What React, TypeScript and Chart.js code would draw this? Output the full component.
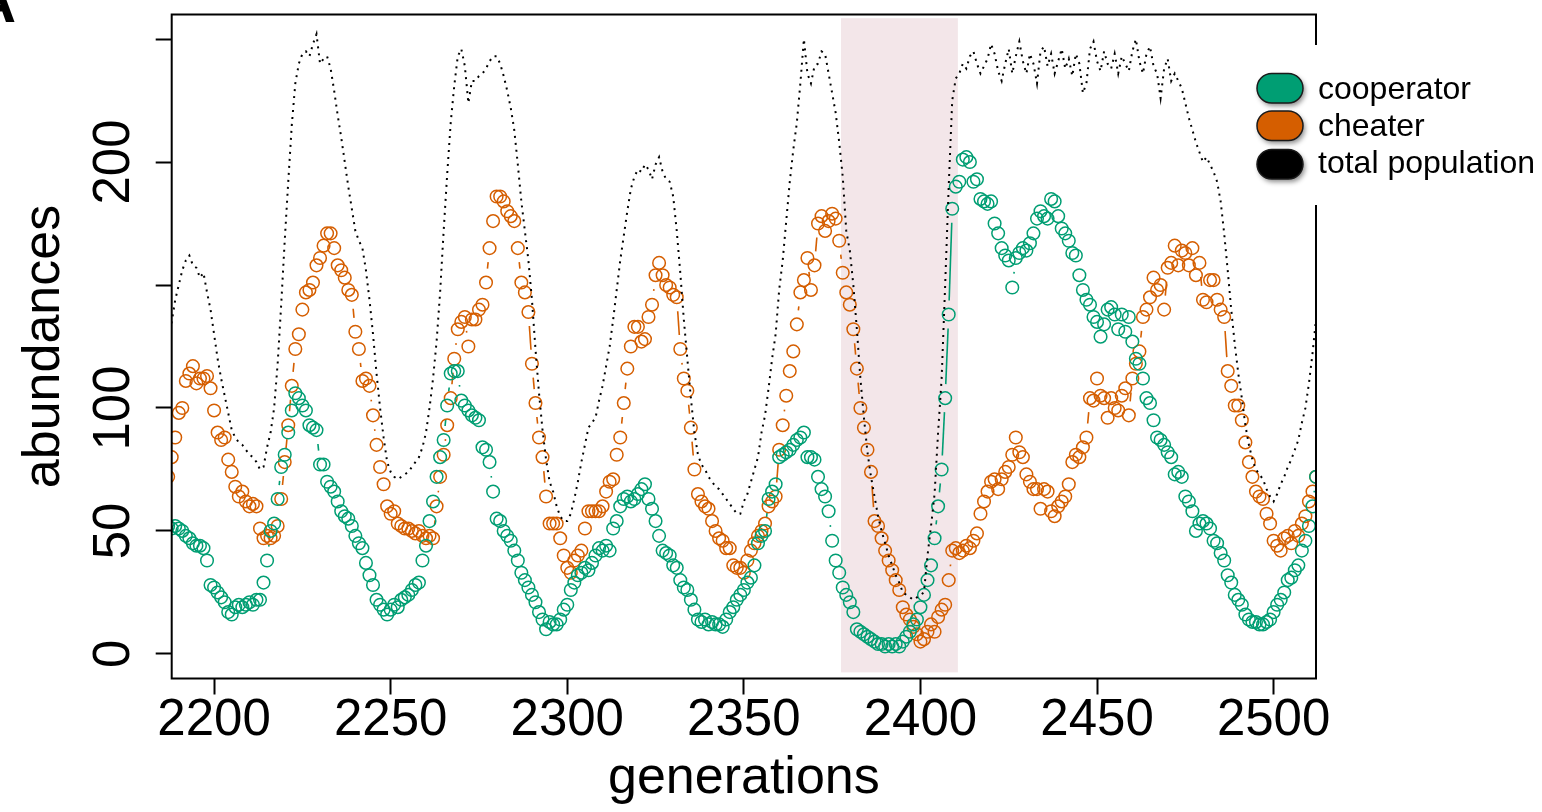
import React, { useEffect, useRef } from 'react';
import { Chart, registerables } from 'chart.js';

Chart.register(...registerables);

// first generation of the series below (one value per generation)
const firstGeneration = 2187;

const cooperator = [
  52, 51, 52, 51, 50, 48, 47, 45, 44, 44,
  43, 38, 28, 27, 25, 23, 21, 17, 16, 19,
  20, 19, 20, 21, 20, 22, 22, 29, 38, 50,
  53, 63, 76, 81, 90, 99, 106, 104, 101, 99,
  93, 92, 91, 77, 77, 70, 68, 66, 62, 58,
  56, 55, 52, 48, 45, 43, 37, 32, 28, 22,
  20, 18, 16, 18, 20, 19, 22, 23,
  24, 26, 28, 29, 38, 44, 54, 62, 72, 80,
  87, 101, 114, 115, 115, 103, 101, 99, 97, 96,
  95, 84, 83, 78, 66, 55, 54, 50, 48, 46,
  42, 38, 33, 30, 27, 24, 21, 17, 14, 10,
  13, 12, 12, 14, 18, 20, 26, 29, 32, 33,
  35, 34, 37, 40, 43, 42, 44, 42, 51, 54,
  60, 63, 64, 62, 63, 65, 67, 69, 63, 59,
  54, 48, 42, 41, 40, 36, 35, 30, 27, 26,
  22, 18, 14, 13, 14, 12, 13, 12,
  12, 11, 14, 17, 19, 22, 24, 26, 29, 31,
  36, 45, 48, 50, 63, 66, 69, 80, 81, 82,
  83, 85, 87, 88, 90, 80, 80, 79, 72, 67,
  64, 58, 46, 38, 33, 27, 24, 21, 17, 10,
  9, 8, 7, 6, 5, 4, 4, 3, 4, 3,
  4, 3, 5, 7, 9, 12, 14, 19, 24, 30,
  36, 47, 60, 75, 104, 138, 181, 190, 192, 201,
  202, 200, 192, 193, 185, 184,
  183, 184, 175, 171, 165, 162, 160, 149, 161, 163,
  165, 164, 167, 171, 177, 180, 178, 177, 185, 184,
  178, 173, 171, 168, 163, 162, 154, 148, 144, 142,
  137, 135, 129, 134, 140, 141, 138, 132, 138, 131,
  137, 127, 120, 118, 112, 104, 102, 95, 88, 87,
  85, 82, 80, 73, 74, 72, 64, 62, 58, 50,
  53, 54, 53, 51, 46, 45, 41, 38, 32, 29,
  24, 22, 20, 16, 14, 13, 13, 12,
  12, 13, 14, 17, 20, 22, 25, 30, 31, 34,
  36, 42, 46, 52, 60, 72,
];

const cheater = [
  72, 80, 88, 98, 100, 111, 114, 117, 110, 112,
  112, 113, 108, 99, 90, 87, 88, 79, 74, 68,
  64, 66, 62, 60, 61, 60, 51, 47, 48, 47,
  48, 52, 63, 78, 93, 109, 124, 130, 140, 147,
  148, 151, 158, 161, 166, 171, 171, 165, 158, 156,
  153, 148, 146, 131, 124, 111, 112, 109, 97, 85,
  76, 69, 60, 57, 58, 53, 52, 51,
  51, 50, 49, 50, 48, 47, 48, 47, 60, 72,
  81, 93, 104, 120, 132, 135, 137, 125, 136, 136,
  140, 142, 151, 165, 176, 186, 186, 184, 180, 178,
  176, 165, 151, 147, 139, 118, 102, 88, 80, 64,
  53, 53, 53, 47, 40, 35, 33, 38, 40, 42,
  51, 58, 58, 58, 58, 60, 66, 70, 71, 81,
  88, 102, 116, 125, 133, 133, 127, 128, 137, 142,
  154, 159, 154, 150, 149, 146, 145, 124, 112, 107,
  92, 75, 65, 62, 60, 59, 54, 50,
  47, 46, 43, 43, 36, 35, 35, 33, 38, 42,
  45, 48, 50, 53, 60, 62, 64, 83, 93, 105,
  115, 123, 134, 147, 152, 161, 148, 158, 175, 178,
  172, 176, 179, 177, 168, 155, 147, 142, 132, 116,
  100, 92, 83, 74, 54, 52, 47, 42, 38, 34,
  30, 26, 19, 16, 14, 11, 8, 5, 6, 9,
  12, 9, 15, 18, 20, 30, 42, 43, 41, 42,
  44, 43, 46, 49, 57, 62,
  66, 70, 71, 67, 71, 74, 76, 81, 88, 82,
  80, 73, 70, 67, 67, 59, 67, 66, 58, 56,
  60, 62, 64, 69, 78, 81, 80, 84, 88, 104,
  103, 112, 105, 104, 96, 104, 100, 99, 105, 108,
  97, 112, 118, 123, 137, 140, 145, 153, 148, 150,
  140, 157, 159, 166, 158, 164, 163, 158, 165, 154,
  159, 144, 143, 152, 152, 144, 140, 137, 115, 109,
  101, 101, 95, 86, 78, 72, 66, 64,
  63, 57, 53, 46, 44, 42, 47, 48, 45, 50,
  48, 53, 56, 62, 66, 72,
];

const totalPopulation = [
  126, 135, 144, 150, 156, 160, 162, 158, 157, 153,
  155, 147, 140, 130, 120, 112, 105, 98, 91, 88,
  86, 85, 83, 81, 80, 78, 75, 76, 84, 90,
  100, 118, 142, 168, 192, 215, 232, 240, 244, 245,
  243, 248, 252, 240, 242, 243, 238, 229, 219, 210,
  200, 190, 181, 172, 168, 165, 156, 144, 130, 114,
  100, 88, 78, 74, 72, 71, 72, 73,
  74, 76, 78, 80, 84, 90, 100, 112, 127, 147,
  172, 195, 216, 231, 243, 246, 239, 224, 233, 233,
  235, 236, 238, 241, 243, 243, 240, 235, 229, 222,
  213, 199, 184, 172, 160, 144, 124, 106, 91, 79,
  70, 66, 60, 56, 54, 54, 57, 63, 70, 78,
  85, 92, 94, 96, 103, 109, 117, 125, 136, 148,
  160, 170, 180, 189, 194, 197, 196, 199, 197, 193,
  199, 202, 196, 193, 192, 186, 172, 155, 136, 120,
  104, 90, 81, 77, 75, 72, 70, 68,
  67, 65, 63, 61, 59, 57, 57, 62, 65, 70,
  75, 80, 90, 97, 108, 120, 130, 148, 160, 176,
  192, 205, 216, 232, 250, 236, 232, 239, 240, 245,
  244, 236, 228, 220, 208, 194, 172, 164, 150, 132,
  112, 96, 82, 72, 64, 56, 50, 45, 40, 36,
  32, 29, 25, 24, 23, 22, 23, 24, 25, 40,
  52, 65, 90, 112, 150, 190, 225, 234, 236, 240,
  238, 243, 245, 240, 236, 239,
  242, 248, 244, 237, 233, 240, 246, 236, 243, 249,
  241, 236, 244, 240, 232, 245, 247, 239, 244, 236,
  241, 246, 238, 242, 235, 244, 240, 228, 232, 246,
  249, 241, 237, 245, 240, 238, 244, 236, 243, 240,
  237, 245, 250, 241, 236, 244, 247, 239, 236, 226,
  238, 242, 233, 236, 233, 230, 224, 218, 213, 208,
  204, 200, 202, 199, 196, 192, 184, 171, 156, 140,
  126, 114, 104, 93, 85, 79, 75, 73,
  71, 67, 64, 62, 65, 69, 72, 76, 79, 83,
  87, 94, 100, 110, 122, 136,
];

const xTicks = [2200, 2250, 2300, 2350, 2400, 2450, 2500];
const yTicks = [0, 50, 100, 150, 200, 250];
const yTickLabels = ['0', '50', '100', '', '200', ''];
const highlightGenerations = [2377.5, 2410.6];
const highlightAbundances = [-7.5, 258.5];
const legendLabels = ['cooperator', 'cheater', 'total population'];

const GREEN = '#009E73';
const ORANGE = '#D55E00';
const FONT = '"Liberation Sans", Arial, Helvetica, sans-serif';

const toPoints = (values: number[]) =>
  values.map((v, i) => ({ x: firstGeneration + i, y: v }));

const bandPlugin = {
  id: 'band',
  beforeDatasetsDraw(chart: any) {
    const { ctx, chartArea, scales } = chart;
    const x0 = scales.x.getPixelForValue(highlightGenerations[0]);
    const x1 = scales.x.getPixelForValue(highlightGenerations[1]);
    const y0 = scales.y.getPixelForValue(highlightAbundances[1]);
    const y1 = scales.y.getPixelForValue(highlightAbundances[0]);
    ctx.save();
    ctx.beginPath();
    ctx.rect(chartArea.left, chartArea.top, chartArea.width, chartArea.height);
    ctx.clip();
    ctx.fillStyle = '#F3E6E9';
    ctx.fillRect(x0, y0, x1 - x0, y1 - y0);
    ctx.restore();
  },
};

// R "type = b": line segments between points, with gaps around each point
const gapLinesPlugin = {
  id: 'gapLines',
  beforeDatasetsDraw(chart: any) {
    const { ctx, chartArea, scales } = chart;
    const gap = 14;
    ctx.save();
    ctx.beginPath();
    ctx.rect(chartArea.left, chartArea.top, chartArea.width, chartArea.height);
    ctx.clip();
    chart.data.datasets.forEach((ds: any) => {
      if (!ds.gapLines) return;
      ctx.strokeStyle = ds.borderColor;
      ctx.lineWidth = 1.6;
      const pts = ds.data;
      for (let i = 1; i < pts.length; i++) {
        const xa = scales.x.getPixelForValue(pts[i - 1].x);
        const ya = scales.y.getPixelForValue(pts[i - 1].y);
        const xb = scales.x.getPixelForValue(pts[i].x);
        const yb = scales.y.getPixelForValue(pts[i].y);
        const dx = xb - xa;
        const dy = yb - ya;
        const d = Math.hypot(dx, dy);
        if (d <= 2 * gap + 1) continue;
        const ux = dx / d;
        const uy = dy / d;
        ctx.beginPath();
        ctx.moveTo(xa + ux * gap, ya + uy * gap);
        ctx.lineTo(xb - ux * gap, yb - uy * gap);
        ctx.stroke();
      }
    });
    ctx.restore();
  },
};

const pillPath = (ctx: CanvasRenderingContext2D, x: number, y: number, w: number, h: number) => {
  const r = h / 2;
  ctx.beginPath();
  ctx.moveTo(x + r, y);
  ctx.lineTo(x + w - r, y);
  ctx.arc(x + w - r, y + r, r, -Math.PI / 2, Math.PI / 2);
  ctx.lineTo(x + r, y + h);
  ctx.arc(x + r, y + r, r, Math.PI / 2, (3 * Math.PI) / 2);
  ctx.closePath();
};

const framePlugin = {
  id: 'frame',
  afterDraw(chart: any) {
    const { ctx, chartArea } = chart;
    ctx.save();
    ctx.strokeStyle = '#000';
    ctx.lineWidth = 2;
    ctx.strokeRect(chartArea.left, chartArea.top, chartArea.width, chartArea.height);

    // legend (white box overlapping the right frame)
    ctx.fillStyle = '#fff';
    ctx.fillRect(1242, 45, 300, 160);
    const fills = [GREEN, ORANGE, '#000'];
    const pillTops = [73.5, 111, 149.5];
    const baselines = [99, 136, 172.5];
    for (let i = 0; i < 3; i++) {
      const x = 1257;
      const y = pillTops[i];
      const w = 46;
      const h = 29.5;
      ctx.save();
      ctx.shadowColor = 'rgba(0,0,0,0.45)';
      ctx.shadowBlur = 5;
      ctx.shadowOffsetX = 2;
      ctx.shadowOffsetY = 3;
      pillPath(ctx, x, y, w, h);
      ctx.fillStyle = fills[i];
      ctx.fill();
      ctx.restore();
      pillPath(ctx, x, y, w, h);
      ctx.strokeStyle = '#1a1a1a';
      ctx.lineWidth = 1.5;
      ctx.stroke();
      ctx.fillStyle = '#000';
      ctx.font = `32px ${FONT}`;
      ctx.textAlign = 'left';
      ctx.textBaseline = 'alphabetic';
      ctx.fillText(legendLabels[i], 1318, baselines[i]);
    }

    // cropped panel letter
    ctx.fillStyle = '#000';
    ctx.font = `bold 60px ${FONT}`;
    ctx.textAlign = 'right';
    ctx.textBaseline = 'alphabetic';
    ctx.fillText('A', 16, 22);
    ctx.restore();
  },
};

export default function App() {
  const canvasRef = useRef<HTMLCanvasElement | null>(null);

  useEffect(() => {
    if (!canvasRef.current) return;
    const chart = new Chart(canvasRef.current, {
      type: 'scatter',
      data: {
        datasets: [
          {
            label: 'total population',
            data: toPoints(totalPopulation),
            showLine: true,
            borderColor: '#000',
            borderWidth: 2,
            borderDash: [2, 5],
            pointRadius: 0,
            tension: 0,
          } as any,
          {
            label: 'cooperator',
            data: toPoints(cooperator),
            borderColor: GREEN,
            backgroundColor: 'rgba(0,0,0,0)',
            pointRadius: 6.3,
            pointBorderWidth: 1.5,
            pointBorderColor: GREEN,
            pointBackgroundColor: 'rgba(0,0,0,0)',
            showLine: false,
            gapLines: true,
          } as any,
          {
            label: 'cheater',
            data: toPoints(cheater),
            borderColor: ORANGE,
            backgroundColor: 'rgba(0,0,0,0)',
            pointRadius: 6.3,
            pointBorderWidth: 1.5,
            pointBorderColor: ORANGE,
            pointBackgroundColor: 'rgba(0,0,0,0)',
            showLine: false,
            gapLines: true,
          } as any,
        ],
      },
      options: {
        animation: false,
        responsive: false,
        devicePixelRatio: 1,
        events: [],
        layout: { padding: { left: 0, top: 14.5, right: 226, bottom: 0 } },
        plugins: { legend: { display: false }, tooltip: { enabled: false } },
        scales: {
          x: {
            type: 'linear',
            min: 2188,
            max: 2512,
            afterFit: (s: any) => {
              s.height = 133.5;
              s.paddingLeft = 0;
              s.paddingRight = 0;
              s.paddingTop = 0;
              s.paddingBottom = 0;
            },
            afterBuildTicks: (s: any) => {
              s.ticks = xTicks.map((v) => ({ value: v }));
            },
            ticks: {
              autoSkip: false,
              maxRotation: 0,
              padding: -4,
              color: '#000',
              font: { family: FONT, size: 51 },
              callback: (v: any) => String(v),
            },
            grid: {
              drawOnChartArea: false,
              drawTicks: true,
              tickLength: 16,
              tickWidth: 2,
              tickColor: '#000',
            },
            border: { display: false },
            title: {
              display: true,
              text: 'generations',
              color: '#000',
              font: { family: FONT, size: 52 },
              padding: { top: 0, bottom: 2 },
            },
          },
          y: {
            type: 'linear',
            min: -10,
            max: 260,
            afterFit: (s: any) => {
              s.width = 171.7;
              s.paddingLeft = 0;
              s.paddingRight = 0;
              s.paddingTop = 0;
              s.paddingBottom = 0;
            },
            afterBuildTicks: (s: any) => {
              s.ticks = yTicks.map((v) => ({ value: v }));
            },
            ticks: {
              autoSkip: false,
              minRotation: 90,
              maxRotation: 90,
              crossAlign: 'center',
              padding: -2,
              color: '#000',
              font: { family: FONT, size: 51 },
              callback: (v: any) => yTickLabels[yTicks.indexOf(Number(v))] ?? '',
            },
            grid: {
              drawOnChartArea: false,
              drawTicks: true,
              tickLength: 16,
              tickWidth: 2,
              tickColor: '#000',
            },
            border: { display: false },
            title: {
              display: true,
              text: 'abundances',
              color: '#000',
              font: { family: FONT, size: 52 },
              padding: { top: 13, bottom: 0 },
            },
          },
        },
      },
      plugins: [bandPlugin, gapLinesPlugin, framePlugin],
    } as any);
    return () => chart.destroy();
  }, []);

  return (
    <div style={{ position: 'absolute', left: 0, top: 0, width: 1542, height: 812, background: '#fff' }}>
      <canvas ref={canvasRef} width={1542} height={812} style={{ display: 'block' }} />
    </div>
  );
}
